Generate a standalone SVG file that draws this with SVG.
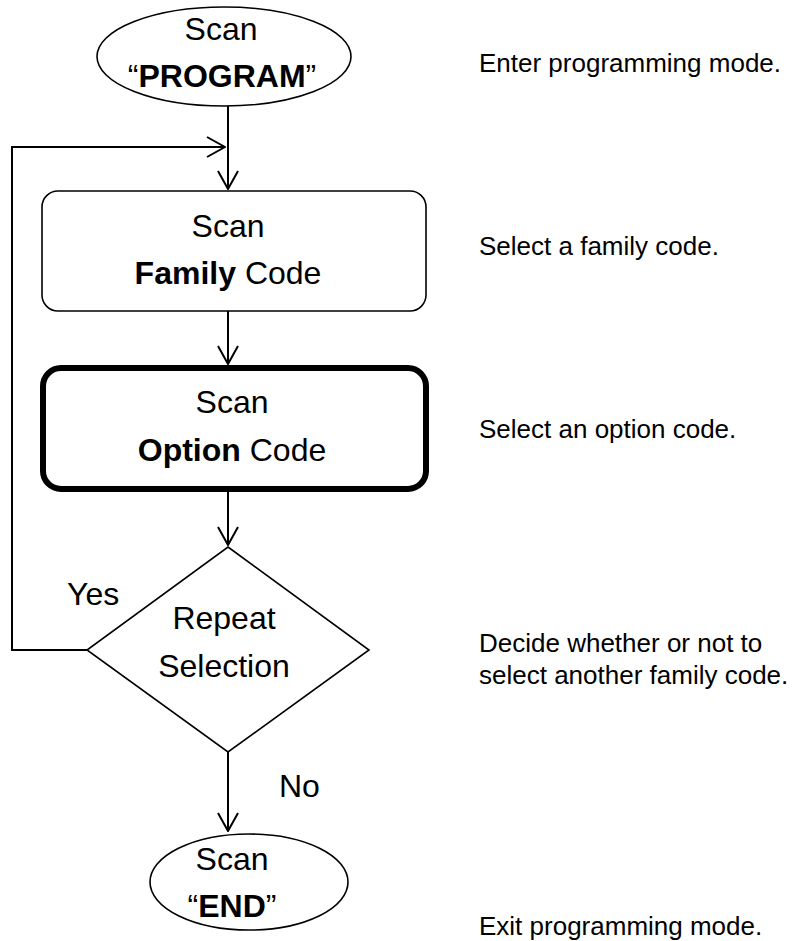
<svg xmlns="http://www.w3.org/2000/svg" width="798" height="941" viewBox="0 0 798 941">
<defs>
<style>
.t{font-family:"Liberation Sans",Arial,sans-serif;font-size:32px;fill:#000}
.d{font-family:"Liberation Sans",Arial,sans-serif;font-size:26px;fill:#000}
.b{font-weight:bold}
.shape{fill:#fff;stroke:#000;stroke-width:1.6}
.conn{fill:none;stroke:#000;stroke-width:2}
</style>
<marker id="arr" viewBox="0 0 20 22" refX="19" refY="11" markerWidth="20" markerHeight="22" markerUnits="userSpaceOnUse" orient="auto">
<path d="M1,1 L19,11 L1,21" fill="none" stroke="#000" stroke-width="2"/>
</marker>
</defs>
<rect width="798" height="941" fill="#fff"/>
<g id="connectors">
<line class="conn" x1="228" y1="106" x2="228" y2="189" marker-end="url(#arr)"/>
<line class="conn" x1="228" y1="311" x2="228" y2="364" marker-end="url(#arr)"/>
<line class="conn" x1="228" y1="492" x2="228" y2="545" marker-end="url(#arr)"/>
<line class="conn" x1="228" y1="752" x2="228" y2="831" marker-end="url(#arr)"/>
<polyline class="conn" points="87,650 12,650 12,147 225,147" marker-end="url(#arr)"/>
</g>
<g id="start">
<ellipse class="shape" cx="224" cy="56.5" rx="127" ry="49.5"/>
<text class="t" x="221" y="40" text-anchor="middle">Scan</text>
<text class="t" x="222" y="87" text-anchor="middle">“<tspan class="b">PROGRAM</tspan>”</text>
</g>
<g id="family">
<rect class="shape" x="42" y="191" width="384" height="120" rx="16"/>
<text class="t" x="228" y="237" text-anchor="middle">Scan</text>
<text class="t" x="228" y="284" text-anchor="middle"><tspan class="b">Family</tspan> Code</text>
</g>
<g id="option">
<rect x="43" y="368" width="383" height="121" rx="18" fill="#fff" stroke="#000" stroke-width="6"/>
<text class="t" x="232" y="413" text-anchor="middle">Scan</text>
<text class="t" x="232" y="461" text-anchor="middle"><tspan class="b">Option</tspan> Code</text>
</g>
<g id="repeat">
<polygon class="shape" points="228,547 369,650 228,752 87,650"/>
<text class="t" x="224" y="629" text-anchor="middle">Repeat</text>
<text class="t" x="224" y="677" text-anchor="middle">Selection</text>
</g>
<g id="end">
<ellipse class="shape" cx="249" cy="882" rx="99" ry="48"/>
<text class="t" x="232" y="870" text-anchor="middle">Scan</text>
<text class="t" x="232" y="917" text-anchor="middle">“<tspan class="b">END</tspan>”</text>
</g>
<g id="labels">
<text class="t" x="67" y="605">Yes</text>
<text class="t" x="279" y="797">No</text>
</g>
<g id="notes">
<text class="d" x="479" y="72">Enter programming mode.</text>
<text class="d" x="479" y="255">Select a family code.</text>
<text class="d" x="479" y="438">Select an option code.</text>
<text class="d" x="479" y="652">Decide whether or not to</text>
<text class="d" x="479" y="684">select another family code.</text>
<text class="d" x="479" y="935">Exit programming mode.</text>
</g>
</svg>
